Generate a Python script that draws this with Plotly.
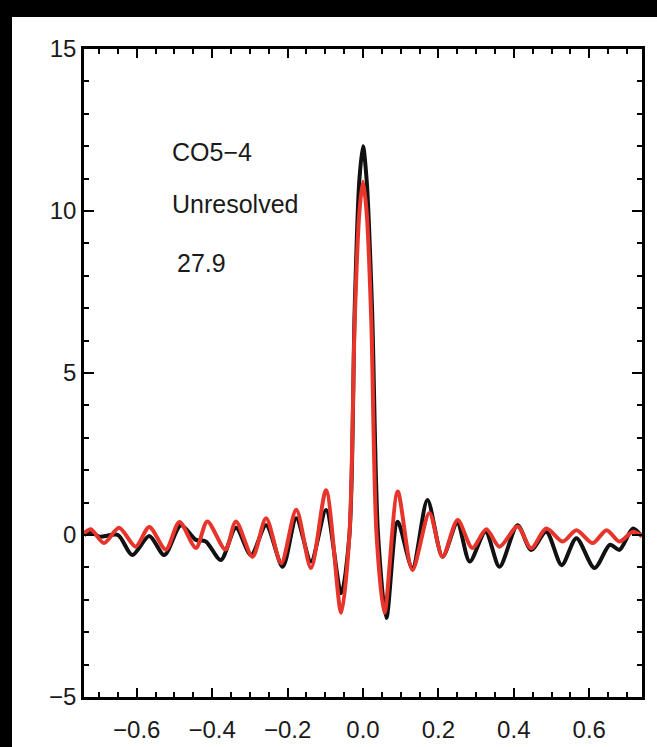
import plotly.graph_objects as go

# Beam profile cut: observed (black) vs. model (red) for CO5-4
x_obs = [-0.740, -0.722, -0.700, -0.650, -0.612, -0.567, -0.527, -0.483, -0.443,
         -0.417, -0.377, -0.337, -0.297, -0.257, -0.213, -0.177, -0.138, -0.098,
         -0.058, -0.036, -0.022, -0.010, 0.000, 0.010, 0.024, 0.040, 0.062,
         0.092, 0.131, 0.171, 0.211, 0.250, 0.283, 0.325, 0.362, 0.410, 0.446,
         0.486, 0.527, 0.566, 0.614, 0.655, 0.680, 0.716, 0.740]
y_obs = [0.00, 0.10, -0.05, 0.00, -0.62, -0.03, -0.62, 0.30, -0.15,
         -0.20, -0.77, 0.22, -0.62, 0.30, -0.98, 0.52, -0.82, 0.77,
         -1.80, 0.00, 7.00, 10.90, 12.00, 10.90, 7.00, 0.00, -2.56,
         0.41, -1.02, 1.08, -0.67, 0.37, -0.82, 0.10, -0.98, 0.30, -0.46,
         0.10, -0.93, -0.10, -1.02, -0.30, -0.46, 0.20, -0.05]

x_mod = [-0.740, -0.722, -0.687, -0.647, -0.603, -0.567, -0.523, -0.487, -0.443,
         -0.413, -0.365, -0.337, -0.293, -0.257, -0.217, -0.177, -0.138, -0.098,
         -0.058, -0.036, -0.022, -0.010, 0.000, 0.010, 0.022, 0.036, 0.057,
         0.092, 0.131, 0.176, 0.211, 0.251, 0.290, 0.327, 0.362, 0.410, 0.446,
         0.486, 0.530, 0.566, 0.609, 0.646, 0.680, 0.716, 0.740]
y_mod = [0.05, 0.18, -0.25, 0.22, -0.36, 0.25, -0.45, 0.40, -0.40,
         0.42, -0.45, 0.42, -0.67, 0.52, -0.87, 0.78, -1.02, 1.38,
         -2.40, 0.00, 6.60, 9.90, 10.90, 9.90, 6.60, 0.00, -2.40,
         1.34, -1.08, 0.68, -0.67, 0.46, -0.40, 0.18, -0.36, 0.26, -0.41,
         0.20, -0.20, 0.15, -0.25, 0.15, -0.20, 0.10, -0.03]

x_ticks = [-0.6, -0.4, -0.2, 0.0, 0.2, 0.4, 0.6]
y_ticks = [-5, 0, 5, 10, 15]
labels = ["CO5\u22124", "Unresolved", "27.9"]
label_x = [-0.511, -0.511, -0.499]
label_y = [11.82, 10.22, 8.40]

FONT = "Liberation Sans, Arial, sans-serif"
TEXT = "#1a1a1a"

fig = go.Figure()
fig.add_trace(go.Scatter(x=x_obs, y=y_obs, mode="lines",
                         line=dict(color="#111111", width=4, shape="spline", smoothing=0.8),
                         hoverinfo="skip"))
fig.add_trace(go.Scatter(x=x_mod, y=y_mod, mode="lines",
                         line=dict(color="#e8352c", width=4, shape="spline", smoothing=0.8),
                         hoverinfo="skip"))

# black border strips along the top and left of the white page
fig.add_shape(type="rect", xref="paper", yref="paper",
              x0=-0.3, x1=1.2, y0=1 + 32 / 648, y1=1.2,
              fillcolor="black", line=dict(width=0), layer="below")
fig.add_shape(type="rect", xref="paper", yref="paper",
              x0=-0.3, x1=-72 / 558, y0=-0.2, y1=1.2,
              fillcolor="black", line=dict(width=0), layer="below")

for txt, lx, ly in zip(labels, label_x, label_y):
    fig.add_annotation(x=lx, y=ly, text=txt, showarrow=False,
                       xanchor="left", yanchor="middle",
                       font=dict(family=FONT, size=25, color=TEXT))

axis_common = dict(showline=True, linecolor="black", linewidth=2.5, mirror="allticks",
                   ticks="inside", tickcolor="black", tickwidth=2, showgrid=False,
                   zeroline=False, automargin=False,
                   tickfont=dict(family=FONT, size=24, color=TEXT))

fig.update_xaxes(range=[-0.74, 0.74], tickvals=x_ticks, tickformat=".1f", ticklen=9,
                 ticklabelstandoff=9,
                 minor=dict(ticks="inside", ticklen=5, dtick=0.05, tick0=0, tickcolor="black",
                            tickwidth=2, showgrid=False),
                 **axis_common)
fig.update_yaxes(range=[-5, 15], tickvals=y_ticks, ticklen=10,
                 minor=dict(ticks="inside", ticklen=5, dtick=1, tick0=0, tickcolor="black",
                            tickwidth=2, showgrid=False),
                 **axis_common)

fig.update_layout(width=657, height=747, showlegend=False,
                  paper_bgcolor="white", plot_bgcolor="white",
                  margin=dict(l=84, r=15, t=49, b=50))

fig.write_html(
    "out.html",
    post_script="document.documentElement.style.overflow='hidden';"
                "document.documentElement.style.background='white';"
                "document.body.style.background='white';"
                "document.body.style.overflow='hidden';document.body.style.margin='0';",
)
